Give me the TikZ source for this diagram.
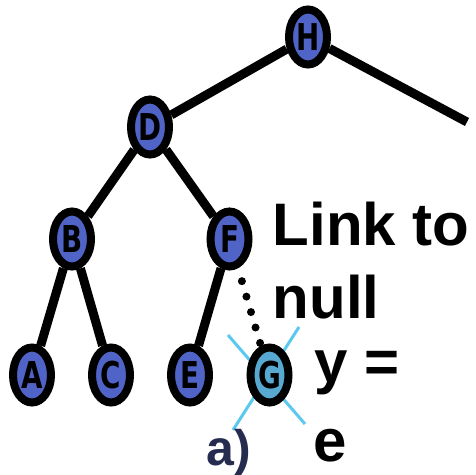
\documentclass[tikz,border=0pt]{standalone}
\usepackage{fontspec}
\usepackage{graphicx}
\setmainfont{Liberation Sans}
\newfontfamily\nodefont{DejaVu Sans}
\usetikzlibrary{shapes.geometric,calc}
\definecolor{nodeblue}{RGB}{80,100,200}
\definecolor{gblue}{RGB}{87,169,210}
\definecolor{crossblue}{RGB}{91,200,240}
\definecolor{navy}{RGB}{38,43,80}
\newcommand\nodeletter[1]{\scalebox{0.75}[1]{#1}}
\begin{document}
\begin{tikzpicture}[x=1pt,y=-1pt,
  treenode/.style={ellipse,draw=black,line width=8pt,fill=nodeblue,
    minimum width=38pt,minimum height=55pt,inner sep=0pt,
    font=\nodefont\bfseries\fontsize{37}{37}\selectfont},
  edge/.style={line width=9pt,black},
  dotlink/.style={line width=8pt,black,line cap=round,dash pattern=on 0pt off 16.1pt},
  crossline/.style={line width=3pt,crossblue},
  bigtext/.style={anchor=base west,inner sep=0pt,font=\bfseries\fontsize{60}{60}\selectfont},
  labeltext/.style={anchor=base west,inner sep=0pt,text=navy,font=\bfseries\fontsize{50}{50}\selectfont}]
\useasboundingbox (0,0) rectangle (476,474);
% cross behind G
\coordinate (c1a) at (228,335);
\coordinate (c1b) at (305,424);
\coordinate (c2a) at (299,327);
\coordinate (c2b) at (233,430);
\draw[crossline] (c1a) -- (c1b);
\draw[crossline] (c2a) -- (c2b);
% nodes
\node[treenode] (H) at (308,37) {\nodeletter{H}};
\node[treenode] (D) at (150,127) {\nodeletter{D}};
\node[treenode] (B) at (72,239) {\nodeletter{B}};
\node[treenode] (F) at (229.5,239) {\nodeletter{F}};
\node[treenode] (A) at (32,375) {\nodeletter{A}};
\node[treenode] (C) at (111,375) {\nodeletter{C}};
\node[treenode] (E) at (190,375) {\nodeletter{E}};
\node[treenode,fill=gblue] (G) at (269.5,375) {\nodeletter{G}};
\coordinate (R) at (467,122);
% edges
\draw[edge] (H) -- (R);
\draw[edge] (H) -- (D);
\draw[edge] (D) -- (B);
\draw[edge] (D) -- (F);
\draw[edge] (B) -- (A);
\draw[edge] (B) -- (C);
\draw[edge] (F) -- (E);
\draw[dotlink] ($(F)!0.31!(G)$) -- ($(F)!0.77!(G)$);
% texts
\node[bigtext] (link) at (272.5,245) {Link to};
\node[bigtext] (null) at (272.5,318) {null};
\node[bigtext] (yeq) at (314,382) {y =};
\node[bigtext] (e) at (313,461) {e};
\node[labeltext] (a) at (206,465) {a)};
\end{tikzpicture}
\end{document}
